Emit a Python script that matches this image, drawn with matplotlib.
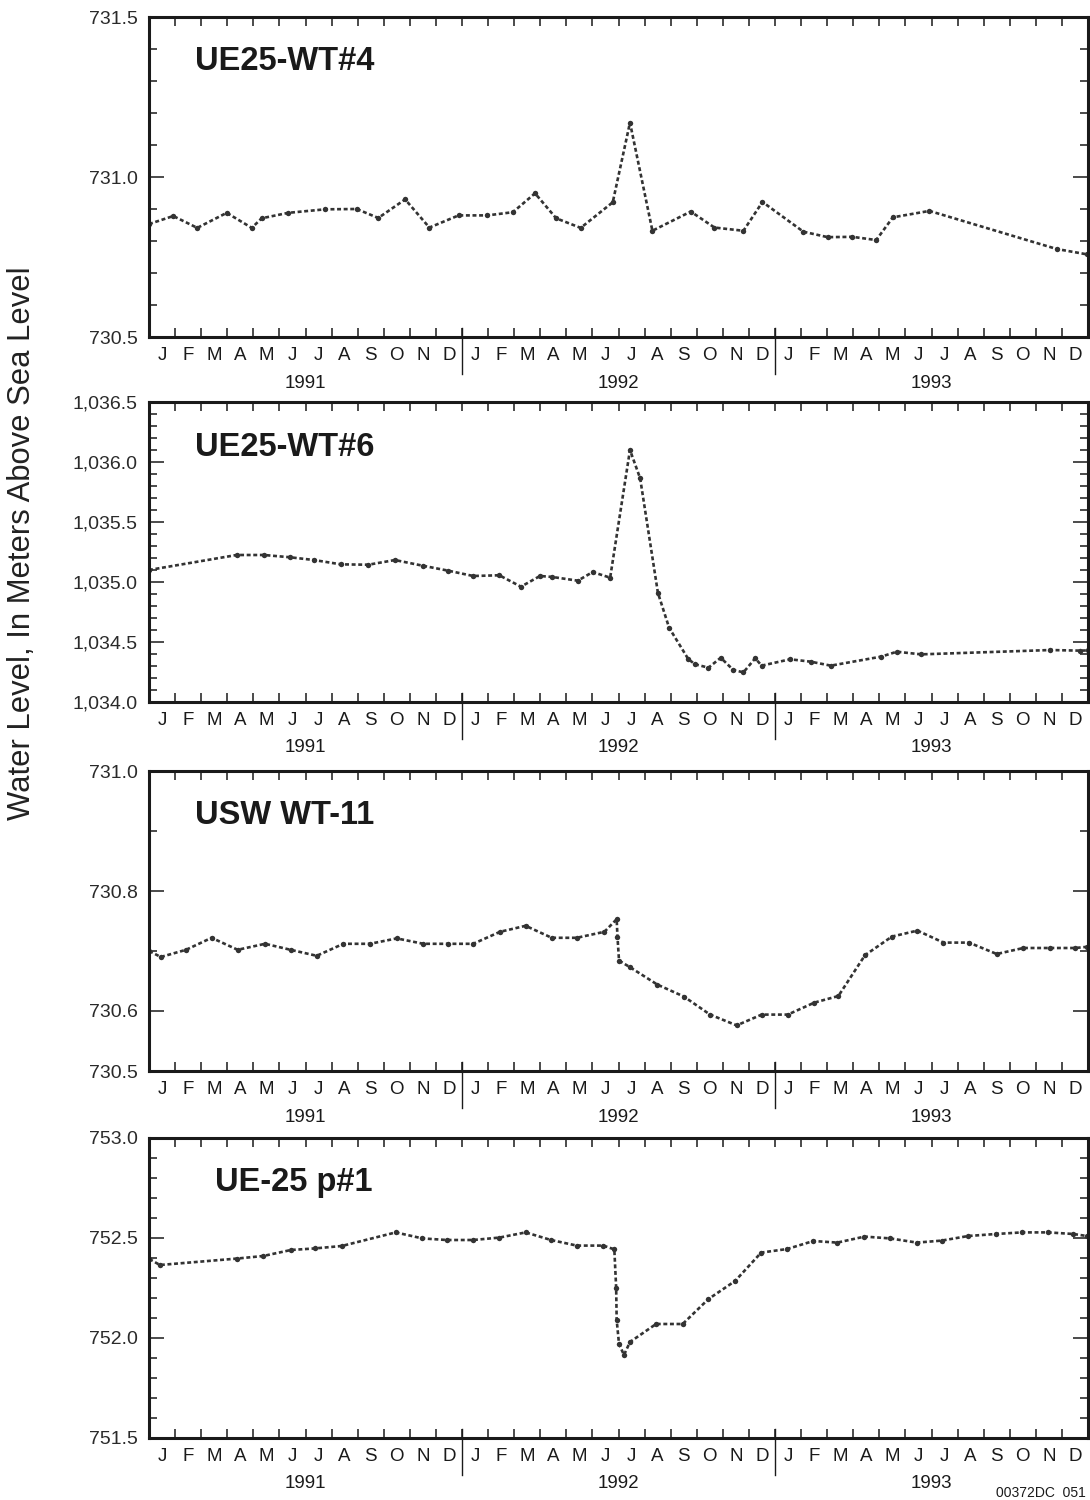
import matplotlib
matplotlib.use("Agg")
import matplotlib.pyplot as plt
import numpy as np
from matplotlib.ticker import FuncFormatter, FixedLocator

plt.rcParams['font.family'] = ['Liberation Sans', 'DejaVu Sans']

# ---------------- data (x = months since 1 Jan 1991) ----------------
month_letters = list("JFMAMJJASOND") * 3
years = ["1991", "1992", "1993"]

wt4_month = [0.0, 0.93, 1.85, 2.98, 3.94, 4.32, 5.34, 6.75, 7.96, 8.79, 9.82, 10.75,
             11.87, 12.97, 13.95, 14.80, 15.61, 16.55, 17.78, 18.44, 19.30, 20.77,
             21.68, 22.79, 23.52, 25.09, 26.02, 26.97, 27.88, 28.52, 29.92, 34.80, 35.98]
wt4_level = [730.853, 730.878, 730.841, 730.888, 730.841, 730.871, 730.888, 730.899,
             730.900, 730.872, 730.930, 730.842, 730.880, 730.880, 730.890, 730.949,
             730.871, 730.841, 730.921, 731.170, 730.832, 730.892, 730.842, 730.832,
             730.922, 730.829, 730.812, 730.813, 730.803, 730.874, 730.894, 730.775,
             730.758]

wt6_month = [0.0, 3.36, 4.41, 5.41, 6.33, 7.36, 8.41, 9.43, 10.49, 11.48, 12.43, 13.43,
             14.26, 14.99, 15.46, 16.44, 17.01, 17.68, 18.44, 18.83, 19.51, 19.94, 20.68,
             20.94, 21.45, 21.92, 22.40, 22.79, 23.24, 23.49, 24.58, 25.37, 26.14, 28.07,
             28.67, 29.60, 34.55, 35.70, 36.0]
wt6_level = [1035.10, 1035.225, 1035.225, 1035.206, 1035.183, 1035.147, 1035.144,
             1035.183, 1035.136, 1035.094, 1035.05, 1035.056, 1034.961, 1035.05,
             1035.042, 1035.011, 1035.083, 1035.036, 1036.10, 1035.864, 1034.911,
             1034.619, 1034.356, 1034.314, 1034.286, 1034.369, 1034.267, 1034.247,
             1034.364, 1034.303, 1034.356, 1034.336, 1034.303, 1034.378, 1034.419,
             1034.397, 1034.433, 1034.428, 1034.43]

wt11_month = [0.01, 0.45, 1.42, 2.40, 3.40, 4.45, 5.43, 6.43, 7.45, 8.47, 9.50, 10.52,
              11.48, 12.43, 13.46, 14.44, 15.44, 16.40, 17.46, 17.93, 17.96, 18.02,
              18.44, 19.49, 20.51, 21.51, 22.53, 23.49, 24.49, 25.51, 26.43, 27.45,
              28.48, 29.46, 30.46, 31.44, 32.50, 33.52, 34.55, 35.51, 35.98]
wt11_level = [730.700, 730.690, 730.702, 730.722, 730.702, 730.712, 730.702, 730.692,
              730.712, 730.712, 730.721, 730.712, 730.712, 730.712, 730.732, 730.742,
              730.722, 730.722, 730.732, 730.753, 730.724, 730.684, 730.673, 730.644,
              730.624, 730.594, 730.576, 730.594, 730.594, 730.614, 730.625, 730.693,
              730.724, 730.734, 730.714, 730.714, 730.695, 730.705, 730.705, 730.705,
              730.707]

p1_month = [0.01, 0.42, 3.36, 4.38, 5.44, 6.37, 7.39, 9.46, 10.48, 11.41, 12.43, 13.43,
            14.44, 15.41, 16.40, 17.42, 17.84, 17.91, 17.93, 18.02, 18.21, 18.44, 19.44,
            20.46, 21.45, 22.47, 23.47, 24.47, 25.47, 26.39, 27.43, 28.41, 29.44, 30.39,
            31.41, 32.47, 33.46, 34.48, 35.44, 35.95]
p1_level = [752.395, 752.365, 752.397, 752.41, 752.44, 752.448, 752.46, 752.528, 752.498,
            752.49, 752.49, 752.502, 752.528, 752.49, 752.462, 752.462, 752.443, 752.252,
            752.09, 751.97, 751.915, 751.98, 752.07, 752.07, 752.195, 752.285, 752.427,
            752.445, 752.485, 752.477, 752.507, 752.498, 752.477, 752.487, 752.51, 752.52,
            752.528, 752.528, 752.52, 752.51]

titles = ["UE25-WT#4", "UE25-WT#6", "USW WT-11", "UE-25 p#1"]
ylims = [(730.5, 731.5), (1034.0, 1036.5), (730.5, 731.0), (751.5, 753.0)]
ymajor = [[730.5, 731.0, 731.5],
          [1034.0, 1034.5, 1035.0, 1035.5, 1036.0, 1036.5],
          [730.5, 730.6, 730.8, 731.0],
          [751.5, 752.0, 752.5, 753.0]]
yminor_step = [0.1, 0.1, 0.1, 0.1]

series = [(wt4_month, wt4_level), (wt6_month, wt6_level),
          (wt11_month, wt11_level), (p1_month, p1_level)]

# ---------------- layout (pixels of a 1090x1500 canvas) ----------------
W, H = 1090, 1500
fig = plt.figure(figsize=(W / 100, H / 100), dpi=100)
left_px, right_px = 149, 1088
panels_px = [(17, 337), (402, 702), (771, 1071), (1138, 1438)]
title_x_px = [195, 195, 195, 215]

ink = "#1a1a1a"
line_col = "#333333"
PX = 0.72  # points per pixel at 100 dpi

for i, (top, bot) in enumerate(panels_px):
    ax = fig.add_axes([left_px / W, 1 - bot / H, (right_px - left_px) / W, (bot - top) / H])
    xs, ys = series[i]
    ax.plot(xs, ys, color=line_col, lw=1.9, linestyle=(0, (1.5, 1.0)),
            marker='o', markersize=3.9, markeredgewidth=0, markerfacecolor=line_col)
    ax.set_xlim(0, 36)
    ax.set_ylim(*ylims[i])

    for sp in ax.spines.values():
        sp.set_linewidth(2.2)
        sp.set_color(ink)

    # x ticks: month boundaries (inside, top & bottom), labels centred on months
    ax.xaxis.set_major_locator(FixedLocator(np.arange(0, 37)))
    ax.xaxis.set_major_formatter(FuncFormatter(lambda v, p: ""))
    ax.xaxis.set_minor_locator(FixedLocator(np.arange(0.5, 36)))
    ax.xaxis.set_minor_formatter(FuncFormatter(lambda v, p: month_letters[int(v)]))
    ax.tick_params(axis='x', which='major', direction='in', length=9 * PX, width=1.1,
                   top=True, bottom=True, color=ink)
    ax.tick_params(axis='x', which='minor', length=0, pad=7.2, labelsize=13.5,
                   labelcolor=ink, top=False)

    # y ticks
    lo, hi = ylims[i]
    ax.yaxis.set_major_locator(FixedLocator(ymajor[i]))
    nminor = int(round((hi - lo) / yminor_step[i]))
    minors = [lo + k * yminor_step[i] for k in range(nminor + 1)]
    minors = [m for m in minors if all(abs(m - M) > 1e-6 for M in ymajor[i])]
    ax.yaxis.set_minor_locator(FixedLocator(minors))
    if i == 1:
        ax.yaxis.set_major_formatter(FuncFormatter(lambda v, p: f"{v:,.1f}"))
    else:
        ax.yaxis.set_major_formatter(FuncFormatter(lambda v, p: f"{v:.1f}"))
    ax.tick_params(axis='y', which='major', direction='in', length=15 * PX, width=1.1,
                   left=True, right=True, labelsize=14, pad=8, labelcolor="#2a2a2a",
                   color=ink)
    ax.tick_params(axis='y', which='minor', direction='in', length=8 * PX, width=1.1,
                   left=True, right=True, color=ink)

    h_px = bot - top
    # year dividers below axis
    for xb in (12, 24):
        ax.plot([xb, xb], [9 / h_px, -37 / h_px], transform=ax.get_xaxis_transform(),
                color=ink, lw=1.0, clip_on=False)
    # year labels
    for k, yr in enumerate(years):
        ax.annotate(yr, xy=(6 + 12 * k, 0), xycoords=('data', 'axes fraction'),
                    xytext=(0, -46 * PX), textcoords='offset points',
                    ha='center', va='center', fontsize=13.5, color=ink)

    # well name
    ax.text((title_x_px[i] - left_px) / (right_px - left_px), 1 - 45 / h_px, titles[i],
            transform=ax.transAxes, fontsize=23.5, fontweight='bold', color=ink,
            ha='left', va='center')

fig.text(22 / W, 1 - 543 / H, "Water Level, In Meters Above Sea Level",
         rotation=90, ha='center', va='center', fontsize=22.3, color="#222222")
fig.text(1086 / W, 1 - 1493 / H, "00372DC  051", ha='right', va='center',
         fontsize=10, color=ink)

fig.savefig("out.png", dpi=100)
